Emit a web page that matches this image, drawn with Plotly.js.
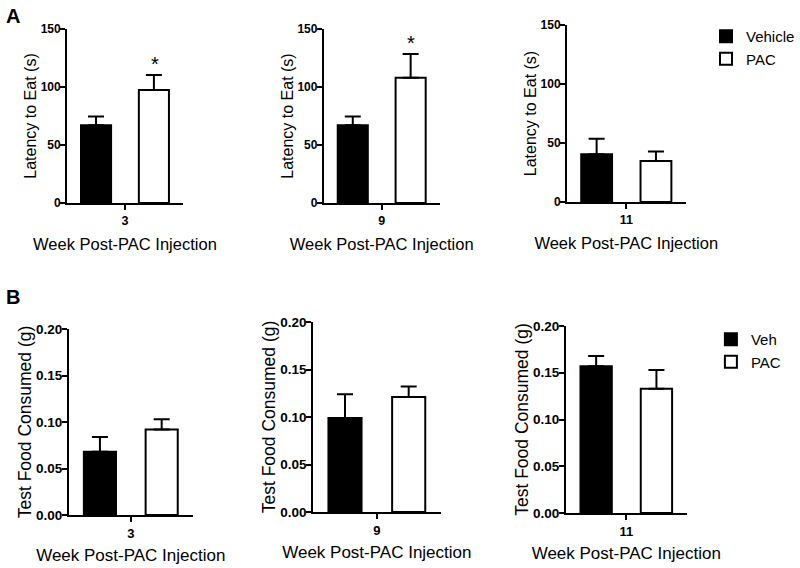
<!DOCTYPE html>
<html>
<head>
<meta charset="utf-8">
<script src="https://cdn.plot.ly/plotly-3.0.1.min.js"></script>
<style>html,body{margin:0;padding:0;background:#fff;}#chart{width:800px;height:568px;}</style>
</head>
<body>
<div id="chart"></div>
<script>
// ---- data ----
const weeks = ['3', '9', '11'];
const latencyVehicle = [67, 67, 40.5];
const latencyVehicleSEM = [7.5, 7.5, 13];
const latencyPAC = [97.5, 108, 34.7];
const latencyPACSEM = [12.8, 20.5, 8];
const latencySig = ['*', '*', ''];
const foodVeh = [0.068, 0.099, 0.157];
const foodVehSEM = [0.016, 0.025, 0.011];
const foodPAC = [0.092, 0.121, 0.133];
const foodPACSEM = [0.011, 0.011, 0.020];
const latencyTicks = [0, 50, 100, 150];
const foodTicks = [0, 0.05, 0.10, 0.15, 0.20];

// ---- layout helpers ----
const W = 800, H = 568;
const FONT = 'Liberation Sans, Arial, sans-serif';
const BARGAP = 0.0, BARGROUPGAP = 0.48;
// panel boxes in px: [left, right, top, bottom]
const boxes = [
  [69, 188, 29, 203],
  [333, 452, 29, 203],
  [583, 705, 25, 202],
  [71, 198, 329, 515],
  [322, 453, 322, 512],
  [582, 706, 326, 513]
];

const layout = {
  width: W, height: H,
  margin: {l: 0, r: 0, t: 0, b: 0},
  paper_bgcolor: 'white', plot_bgcolor: 'white',
  barmode: 'group', bargap: BARGAP, bargroupgap: BARGROUPGAP,
  hovermode: false,
  font: {family: FONT, color: 'black'},
  showlegend: true,
  legend: {x: 726 / W, xanchor: 'left', y: 1 - 20 / H, yanchor: 'top',
           font: {size: 15, family: FONT}, bgcolor: 'rgba(0,0,0,0)', tracegroupgap: 0},
  legend2: {x: 731 / W, xanchor: 'left', y: 1 - 323 / H, yanchor: 'top',
            font: {size: 15, family: FONT}, bgcolor: 'rgba(0,0,0,0)', tracegroupgap: 0},
  annotations: [
    {text: '<b>A</b>', xref: 'paper', yref: 'paper', x: 4 / W, y: 1 - 3 / H,
     xanchor: 'left', yanchor: 'top', showarrow: false, font: {size: 20, family: FONT}},
    {text: '<b>B</b>', xref: 'paper', yref: 'paper', x: 4 / W, y: 1 - 284 / H,
     xanchor: 'left', yanchor: 'top', showarrow: false, font: {size: 20, family: FONT}}
  ]
};

boxes.forEach((b, i) => {
  const n = i + 1;
  const xk = 'xaxis' + (n === 1 ? '' : n);
  const yk = 'yaxis' + (n === 1 ? '' : n);
  const isA = i < 3;
  layout[xk] = {
    domain: [b[0] / W, b[1] / W],
    anchor: 'y' + (n === 1 ? '' : n),
    type: 'category', range: [-0.5, 0.5],
    showline: true, linewidth: 2, linecolor: 'black',
    ticks: 'outside', ticklen: 5, tickwidth: 2, tickcolor: 'black',
    showgrid: false, zeroline: false,
    tickfont: {size: isA ? 12.5 : 13, family: FONT, weight: 'bold'},
    title: {text: 'Week Post-PAC Injection', font: {size: isA ? 16.5 : 17, family: FONT},
            standoff: isA ? 11 : 10}
  };
  layout[yk] = {
    domain: [1 - b[3] / H, 1 - b[2] / H],
    anchor: 'x' + (n === 1 ? '' : n),
    range: isA ? [0, 150] : [0, 0.2],
    tickvals: isA ? latencyTicks : foodTicks,
    tickformat: isA ? 'd' : '.2f',
    showline: true, linewidth: 2, linecolor: 'black',
    ticks: 'outside', ticklen: 5, tickwidth: 2, tickcolor: 'black',
    ticklabelstandoff: -3,
    showgrid: false, zeroline: false,
    tickfont: {size: isA ? 12 : 13.5, family: FONT, weight: 'bold'},
    title: {text: isA ? 'Latency to Eat (s)' : 'Test Food Consumed (g)',
            font: {size: isA ? 16 : 17.5, family: FONT}, standoff: 0}
  };
});

const traces = [];
function addPair(idx, vals1, sem1, vals2, sem2, name1, name2, legendKey, sig) {
  const n = idx + 1;
  const xa = 'x' + (n === 1 ? '' : n);
  const ya = 'y' + (n === 1 ? '' : n);
  const wk = idx % 3;
  const show = wk === 2;
  traces.push({
    type: 'bar', x: [weeks[wk]], y: [vals1[wk]], name: name1,
    xaxis: xa, yaxis: ya, legend: legendKey, showlegend: show,
    marker: {color: 'black', line: {color: 'black', width: 2}},
    error_y: {type: 'data', array: [sem1[wk]], arrayminus: [0], symmetric: false,
              color: 'black', thickness: 2, width: 8}
  });
  traces.push({
    type: 'bar', x: [weeks[wk]], y: [vals2[wk]], name: name2,
    xaxis: xa, yaxis: ya, legend: legendKey, showlegend: show,
    marker: {color: 'white', line: {color: 'black', width: 2}},
    error_y: {type: 'data', array: [sem2[wk]], arrayminus: [0], symmetric: false,
              color: 'black', thickness: 2, width: 8}
  });
  if (sig && sig[wk]) {
    // category axis: the single category sits at serial position 0;
    // shift to the centre of the second bar slot, in px
    const plotW = boxes[idx][1] - boxes[idx][0];
    const shift = plotW * (1 - BARGAP) / 4;
    layout.annotations.push({
      xref: xa, yref: ya, x: 0, y: vals2[wk] + sem2[wk],
      xshift: shift, yshift: -2, xanchor: 'center', yanchor: 'bottom',
      text: sig[wk], showarrow: false, font: {size: 20, family: FONT, color: 'black'}
    });
  }
}
for (let i = 0; i < 3; i++) {
  addPair(i, latencyVehicle, latencyVehicleSEM, latencyPAC, latencyPACSEM, 'Vehicle', 'PAC', 'legend', latencySig);
}
for (let i = 3; i < 6; i++) {
  addPair(i, foodVeh, foodVehSEM, foodPAC, foodPACSEM, 'Veh', 'PAC', 'legend2', null);
}

Plotly.newPlot('chart', traces, layout, {displayModeBar: false, staticPlot: true});
</script>
</body>
</html>
